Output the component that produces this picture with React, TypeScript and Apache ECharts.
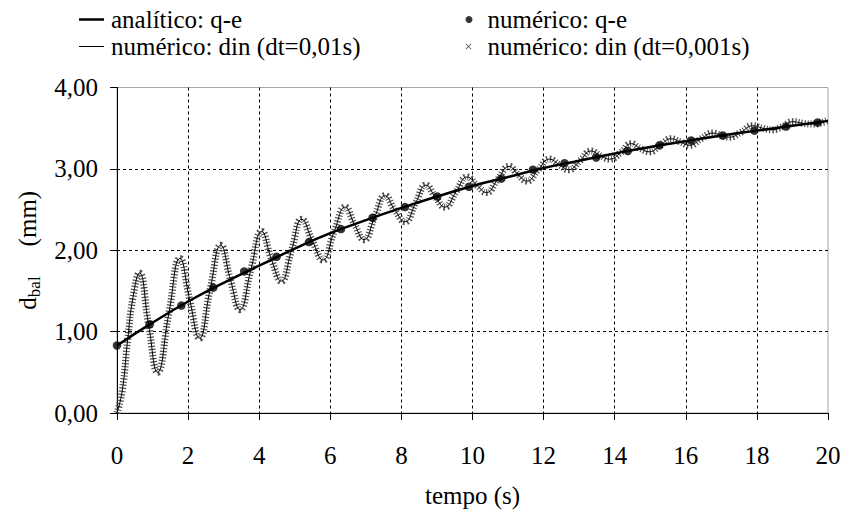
import React, { useEffect, useRef } from 'react';
import * as echarts from 'echarts';

const FONT = 'Liberation Serif';

// Axis tick labels
const yTickLabels = ['0,00', '1,00', '2,00', '3,00', '4,00'];
const xTickLabels = ['0', '2', '4', '6', '8', '10', '12', '14', '16', '18', '20'];

// Series names
const nameAnalytic = 'analítico: q-e';
const nameQe = 'numérico: q-e';
const nameDin01 = 'numérico: din (dt=0,01s)';
const nameDin001 = 'numérico: din (dt=0,001s)';

// analítico: q-e (solid curve)
const analyticTime = [0, 1, 2, 3, 4, 5, 6, 7, 8, 9, 10, 11, 12, 13, 14, 15, 16, 17, 18, 19, 20];
const analyticValue = [0.83, 1.11, 1.37, 1.6, 1.81, 2.02, 2.21, 2.37, 2.52, 2.66, 2.79, 2.9, 3.01, 3.1, 3.19, 3.27, 3.34, 3.41, 3.47, 3.53, 3.59];

// numérico: q-e (dots)
const qeTime = [0, 0.92, 1.81, 2.71, 3.58, 4.49, 5.4, 6.3, 7.19, 8.1, 9.01, 9.9, 10.81, 11.7, 12.59, 13.48, 14.37, 15.26, 16.15, 17.04, 17.93, 18.82, 19.71];
const qeValue = [0.83, 1.09, 1.32, 1.54, 1.74, 1.92, 2.1, 2.26, 2.4, 2.53, 2.66, 2.78, 2.88, 2.99, 3.07, 3.14, 3.22, 3.29, 3.35, 3.41, 3.47, 3.52, 3.57];

// numérico: din — both time steps coincide at this scale (read peaks, troughs, crossings)
const dinTime = [0, 0.15, 0.3, 0.45, 0.63, 0.89, 1.14, 1.46, 1.77, 2.05, 2.32, 2.62, 2.92, 3.19, 3.46, 3.77, 4.07, 4.35, 4.62, 4.91, 5.2, 5.5, 5.79, 6.11, 6.42, 6.68, 6.95, 7.25, 7.54, 7.82, 8.1, 8.4, 8.69, 8.96, 9.22, 9.54, 9.85, 10.12, 10.39, 10.71, 11.03, 11.28, 11.53, 11.85, 12.17, 12.44, 12.71, 13.02, 13.34, 13.6, 13.86, 14.17, 14.47, 14.72, 14.98, 15.28, 15.59, 15.85, 16.1, 16.43, 16.76, 17.0, 17.23, 17.55, 17.88, 18.16, 18.44, 18.72, 19.0, 19.3, 19.6, 20.0];
const dinValue = [0, 0.28, 0.9, 1.42, 1.72, 1.08, 0.5, 1.23, 1.9, 1.38, 0.92, 1.52, 2.06, 1.64, 1.27, 1.77, 2.23, 1.88, 1.62, 2.0, 2.38, 2.11, 1.88, 2.23, 2.53, 2.32, 2.13, 2.41, 2.67, 2.49, 2.35, 2.58, 2.8, 2.65, 2.53, 2.72, 2.9, 2.8, 2.71, 2.87, 3.03, 2.93, 2.85, 2.99, 3.12, 3.05, 2.99, 3.1, 3.22, 3.16, 3.12, 3.2, 3.31, 3.25, 3.21, 3.29, 3.37, 3.33, 3.29, 3.37, 3.44, 3.41, 3.39, 3.45, 3.53, 3.5, 3.48, 3.52, 3.58, 3.56, 3.55, 3.6];

const zip = (a: number[], b: number[]) => a.map((v, i) => [v, b[i]]);

const crossIcon = 'path://M0,1L1,0L5,4L9,0L10,1L6,5L10,9L9,10L5,6L1,10L0,9L4,5Z';

const baseText = () => ({ fontFamily: FONT, fontSize: 25, color: '#000' });

function legendItem(name: string, icon: string, left: number, top: number, w: number, h: number, textPad: number) {
  return {
    left,
    top,
    padding: 0,
    itemWidth: w,
    itemHeight: h,
    selectedMode: false,
    textStyle: { fontFamily: FONT, fontSize: 25, color: '#000', padding: [0, 0, 0, textPad] },
    data: [{ name, icon }],
  };
}

function buildOption(): any {
  return {
    animation: false,
    backgroundColor: '#ffffff',
    grid: {
      left: 117,
      right: 17,
      top: 87.5,
      bottom: 105,
      show: true,
      borderColor: '#a6a6a6',
      borderWidth: 1,
      backgroundColor: 'transparent',
    },
    legend: [
      legendItem(nameAnalytic, 'rect', 79, 7, 25, 2.5, 2),
      legendItem(nameDin01, 'rect', 79, 34, 25, 1, 2),
      legendItem(nameQe, 'circle', 465.5, 7, 7, 7, 10),
      legendItem(nameDin001, crossIcon, 465.5, 34, 6, 6, 11),
    ],
    xAxis: {
      type: 'value',
      min: 0,
      max: 20,
      interval: 2,
      name: 'tempo (s)',
      nameLocation: 'middle',
      nameGap: 70,
      nameTextStyle: baseText(),
      axisLine: { show: true, onZero: false, lineStyle: { color: '#000', width: 1 } },
      axisTick: { show: true, inside: false, length: 7, lineStyle: { color: '#000', width: 1 } },
      axisLabel: {
        fontFamily: FONT,
        fontSize: 25,
        color: '#000',
        margin: 30,
        formatter: (v: number) => xTickLabels[Math.round(v / 2)] ?? '',
      },
      splitLine: {
        show: true,
        showMinLine: false,
        showMaxLine: false,
        lineStyle: { color: '#000', type: [3, 3], width: 1 },
      },
    },
    yAxis: {
      type: 'value',
      min: 0,
      max: 4,
      interval: 1,
      name: '{d|d}{s|bal}{g|}{n|(mm)}',
      nameLocation: 'middle',
      nameRotate: 90,
      nameGap: 72,
      nameTextStyle: {
        fontFamily: FONT,
        fontSize: 25,
        color: '#000',
        rich: {
          d: { fontFamily: FONT, fontSize: 25, color: '#000', lineHeight: 28, verticalAlign: 'top' },
          s: { fontFamily: FONT, fontSize: 17, color: '#000', lineHeight: 17, verticalAlign: 'bottom', padding: [14, 0, 0, 0] },
          g: { width: 30, lineHeight: 28 },
          n: { fontFamily: FONT, fontSize: 25, color: '#000', lineHeight: 28, verticalAlign: 'top' },
        },
      },
      axisLine: { show: true, onZero: false, lineStyle: { color: '#000', width: 1 } },
      axisTick: { show: true, inside: false, length: 7, lineStyle: { color: '#000', width: 1 } },
      axisLabel: {
        fontFamily: FONT,
        fontSize: 25,
        color: '#000',
        margin: 19,
        formatter: (v: number) => yTickLabels[Math.round(v)] ?? '',
      },
      splitLine: {
        show: true,
        showMinLine: false,
        showMaxLine: false,
        lineStyle: { color: '#000', type: [3, 3], width: 1 },
      },
    },
    series: [
      {
        name: nameDin001,
        type: 'line',
        data: zip(dinTime, dinValue),
        smooth: 0.5,
        symbol: 'none',
        z: 2,
        itemStyle: { color: '#555' },
        lineStyle: { color: '#4e4e4e', width: 7, type: [1.2, 1.9], cap: 'butt' },
      },
      {
        name: nameDin01,
        type: 'line',
        data: zip(dinTime, dinValue),
        smooth: 0.5,
        symbol: 'none',
        z: 3,
        itemStyle: { color: '#000' },
        lineStyle: { color: '#000', width: 1 },
      },
      {
        name: nameAnalytic,
        type: 'line',
        data: zip(analyticTime, analyticValue),
        smooth: 0.5,
        symbol: 'none',
        z: 4,
        itemStyle: { color: '#000' },
        lineStyle: { color: '#000', width: 2.5 },
      },
      {
        name: nameQe,
        type: 'scatter',
        data: zip(qeTime, qeValue),
        symbol: 'circle',
        symbolSize: 8.5,
        z: 5,
        itemStyle: { color: '#000' },
      },
    ],
  };
}

export default function App() {
  const ref = useRef<HTMLDivElement>(null);
  useEffect(() => {
    if (!ref.current) return;
    const chart = echarts.init(ref.current, null, { renderer: 'svg' });
    chart.setOption(buildOption());
    return () => chart.dispose();
  }, []);
  return (
    <div
      ref={ref}
      style={{ position: 'fixed', left: 0, top: 0, width: 845, height: 518, background: '#fff' }}
    />
  );
}
